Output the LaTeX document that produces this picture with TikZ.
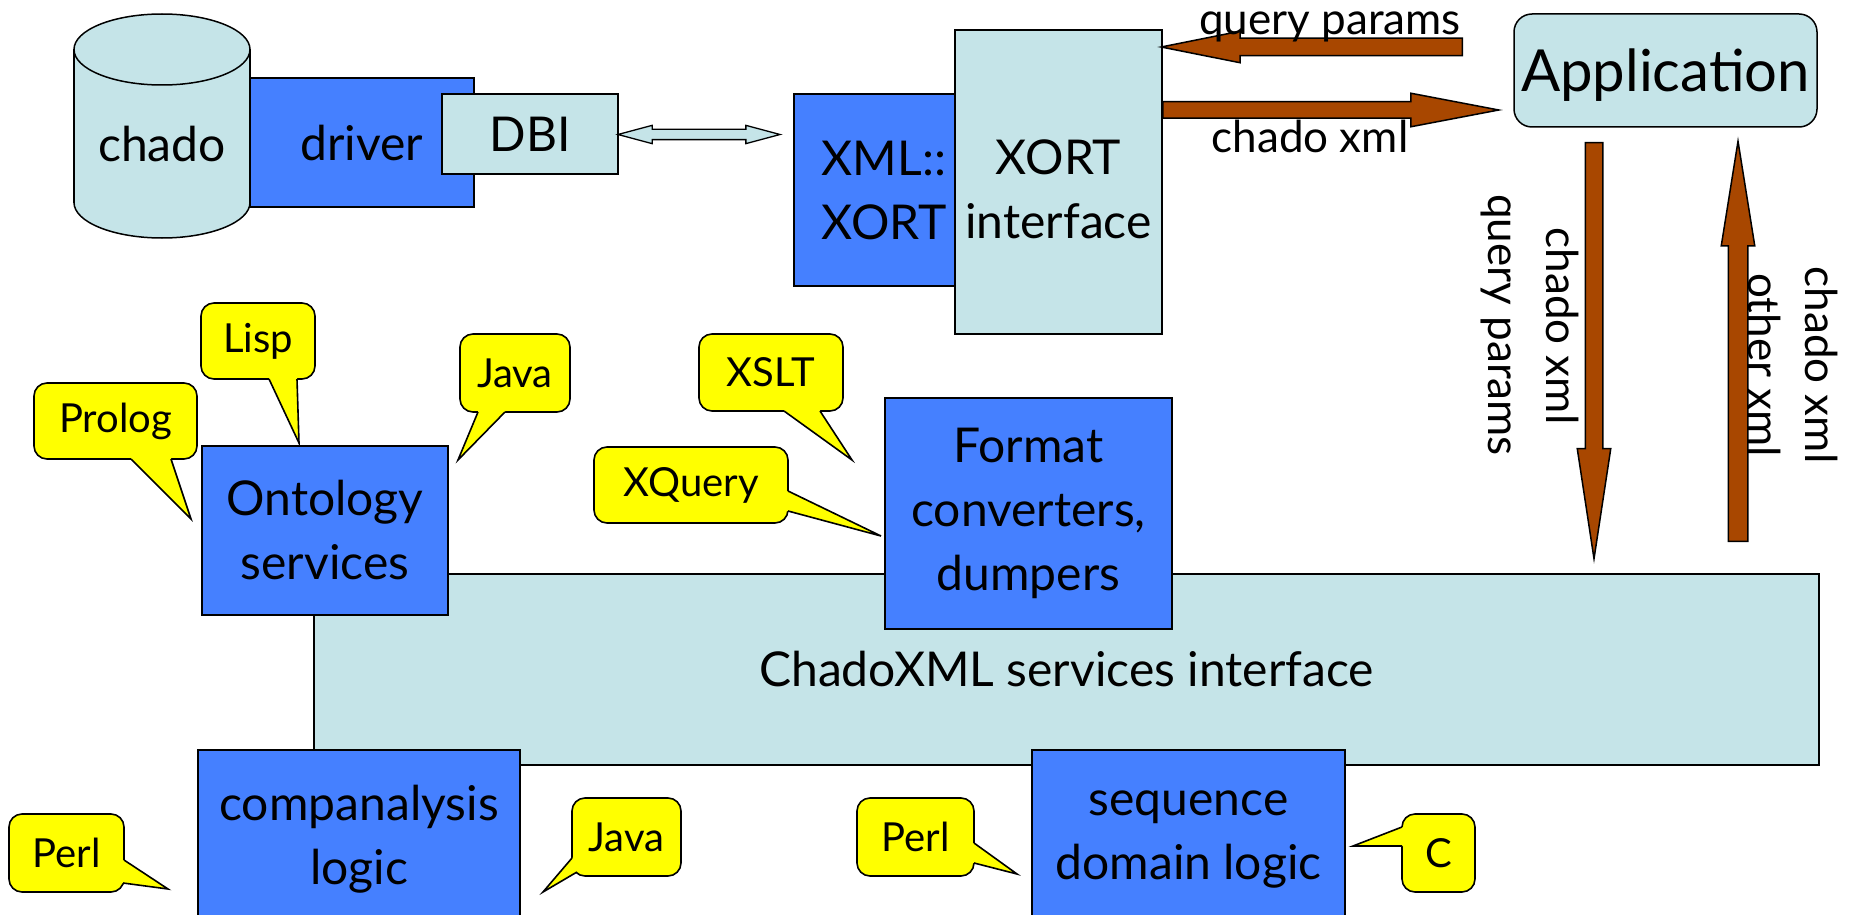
\documentclass[tikz,border=0pt]{standalone}
\usepackage{fontspec}
\setmainfont{Lato}
\usetikzlibrary{shapes.arrows}

\definecolor{paleblue}{RGB}{197,228,232}
\definecolor{boxblue}{RGB}{69,128,255}
\definecolor{rust}{RGB}{168,71,0}
\definecolor{tagyellow}{RGB}{255,255,0}

\newcommand\boxfont{\fontsize{48}{64}\selectfont}
\newcommand\appfont{\fontsize{58}{66}\selectfont}
\newcommand\tagfont{\fontsize{40}{48}\selectfont}
\newcommand\flowfont{\fontsize{44}{58}\selectfont}

\begin{document}
\begin{tikzpicture}[x=1pt,y=-1pt,
  outline/.style={draw=black, line width=1.5pt},
  pale/.style={outline, fill=paleblue},
  bluebox/.style={outline, fill=boxblue},
  boxtext/.style={inner sep=0pt, font=\boxfont, align=center},
  tag/.style={draw=black, line width=1.6pt, fill=tagyellow, rounded corners=13pt,
    inner sep=0pt, font=\tagfont},
  tagline/.style={draw=black, line width=1.6pt, line join=miter},
  flow/.style={single arrow, draw=black, line width=1.5pt, fill=rust, inner xsep=0pt,
    single arrow head indent=0pt, anchor=tail},
  flowtext/.style={inner sep=0pt, font=\flowfont, anchor=base},
]
\useasboundingbox (0,0) rectangle (1858,915);
\fill[white] (0,0) rectangle (1858,915);
\clip (0,0) rectangle (1858,915);

% ---- services layer ----
\node[pale, boxtext, minimum width=1505pt, minimum height=191pt] (services) at (1066.5,669.5)
  {ChadoXML services interface};
\node[bluebox, boxtext, minimum width=246pt, minimum height=169pt] (onto) at (325,530.5)
  {Ontology\\services};
\node[bluebox, boxtext, minimum width=287pt, minimum height=231pt] (format) at (1028.5,513.5)
  {Format\\converters,\\dumpers};
\node[bluebox, minimum width=322pt, minimum height=180pt] (comp) at (359,840) {};
\node[boxtext] (comptext) at (359,839) {companalysis\\logic};
\node[bluebox, minimum width=313pt, minimum height=180pt] (seq) at (1188.5,840) {};
\node[boxtext] (seqtext) at (1188.5,839) {sequence\\domain logic};

% ---- database stack ----
\node[bluebox, boxtext, minimum width=224pt, minimum height=129pt] (driver) at (362,142.5) {driver};
\filldraw[pale] (162,202.5) ellipse [x radius=88pt, y radius=35.5pt];
\fill[paleblue] (74,49.5) rectangle (250,202.5);
\draw[outline] (74,49.5) -- (74,202.5) (250,49.5) -- (250,202.5);
\filldraw[pale] (162,49.5) ellipse [x radius=88pt, y radius=35.5pt];
\node[boxtext] (chado) at (162,144) {chado};
\node[pale, boxtext, minimum width=176pt, minimum height=80pt] (dbi) at (530,134) {DBI};

% ---- XORT ----
\node[bluebox, boxtext, minimum width=180pt, minimum height=192pt] (xmlxort) at (884,190)
  {XML::\\XORT};
\node[pale, minimum width=207pt, minimum height=304pt] (xort) at (1058.5,182) {};
\node[boxtext] (xorttext) at (1058.5,189) {XORT\\interface};

\node[double arrow, draw=black, line width=1.3pt, fill=paleblue, inner xsep=0pt,
  inner ysep=4.5pt, minimum height=162pt, minimum width=17pt, double arrow head extend=4pt,
  double arrow tip angle=30, double arrow head indent=0pt] (link) at (699,134.5) {};

% ---- application ----
\node[pale, rounded corners=18pt, minimum width=303pt, minimum height=113pt,
  inner sep=0pt, text depth=0pt, font=\appfont] (app) at (1665.5,70.5) {Application};

% ---- data flows ----
\node[flow, rotate=180, inner ysep=8pt, minimum height=301pt, minimum width=30pt,
  single arrow head extend=7pt, single arrow tip angle=22.6] (toxort) at (1463,47) {};
\node[flow, inner ysep=7.5pt, minimum height=336pt, minimum width=32pt,
  single arrow head extend=8.5pt, single arrow tip angle=21.6] (toapp) at (1162,110) {};
\node[flowtext] (qptop) at (1330,35) {query params};
\node[flowtext] (cxtop) at (1310,153) {chado xml};

\node[flow, rotate=-90, inner ysep=8pt, minimum height=416pt, minimum width=32pt,
  single arrow head extend=8pt, single arrow tip angle=17.3] (down) at (1594,142) {};
\node[flow, rotate=90, inner ysep=9pt, minimum height=400pt, minimum width=32pt,
  single arrow head extend=7pt, single arrow tip angle=18.2] (up) at (1738,542) {};
\node[flowtext, rotate=-90] (cxdown) at (1546,326) {chado xml};
\node[flowtext, rotate=-90] (qpdown) at (1488,325) {query params};
\node[flowtext, rotate=-90] (cxup) at (1805,365) {chado xml};
\node[flowtext, rotate=-90] (oxup) at (1748,365) {other xml};

% ---- language tags ----
\node[tag, minimum width=163pt, minimum height=76pt] (prolog) at (115.5,421) {Prolog};
\fill[tagyellow] (131,455) -- (131,459) -- (191,519) -- (171,459) -- (171,455) -- cycle;
\draw[tagline] (131,459) -- (191,519) -- (171,459);

\node[tag, minimum width=114pt, minimum height=76pt] (lisp) at (258,341) {Lisp};
\fill[tagyellow] (269,375) -- (269,379) -- (299,443) -- (297,379) -- (297,375) -- cycle;
\draw[tagline] (269,379) -- (299,443) -- (297,379);

\node[tag, minimum width=110pt, minimum height=78pt] (javatop) at (515,373) {Java};
\fill[tagyellow] (478,408) -- (478,412) -- (458,460) -- (505,412) -- (505,408) -- cycle;
\draw[tagline] (478,412) -- (458,460) -- (505,412);

\node[tag, minimum width=144pt, minimum height=77pt] (xslt) at (771,372.5) {XSLT};
\fill[tagyellow] (784,407) -- (784,411) -- (852,460) -- (820,411) -- (820,407) -- cycle;
\draw[tagline] (784,411) -- (852,460) -- (820,411);

\node[tag, minimum width=194pt, minimum height=76pt] (xquery) at (691,485) {XQuery};
\fill[tagyellow] (784,491) -- (788,491) -- (881,536) -- (788,511) -- (784,511) -- cycle;
\draw[tagline] (788,491) -- (881,536) -- (788,511);

\node[tag, minimum width=115pt, minimum height=78pt] (perlleft) at (66.5,853) {Perl};
\fill[tagyellow] (120,860) -- (124,860) -- (168,889) -- (123,883) -- (118,883) -- cycle;
\draw[tagline] (124,860) -- (168,889) -- (123,883);

\node[tag, minimum width=109pt, minimum height=78pt] (javabottom) at (626.5,837) {Java};
\fill[tagyellow] (578,856) -- (572,858) -- (543,892) -- (577,872) -- (583,866) -- cycle;
\draw[tagline] (572,858) -- (543,892) -- (577,872);

\node[tag, minimum width=117pt, minimum height=78pt] (perlmid) at (915.5,837) {Perl};
\fill[tagyellow] (970,843) -- (974,843) -- (1017,874) -- (974,863) -- (970,863) -- cycle;
\draw[tagline] (974,843) -- (1017,874) -- (974,863);

\node[tag, minimum width=73pt, minimum height=78pt] (clang) at (1438.5,853) {C};
\fill[tagyellow] (1406,827) -- (1402,827) -- (1353,846) -- (1402,846) -- (1406,846) -- cycle;
\draw[tagline] (1402,827) -- (1353,846) -- (1402,846);
\end{tikzpicture}
\end{document}
